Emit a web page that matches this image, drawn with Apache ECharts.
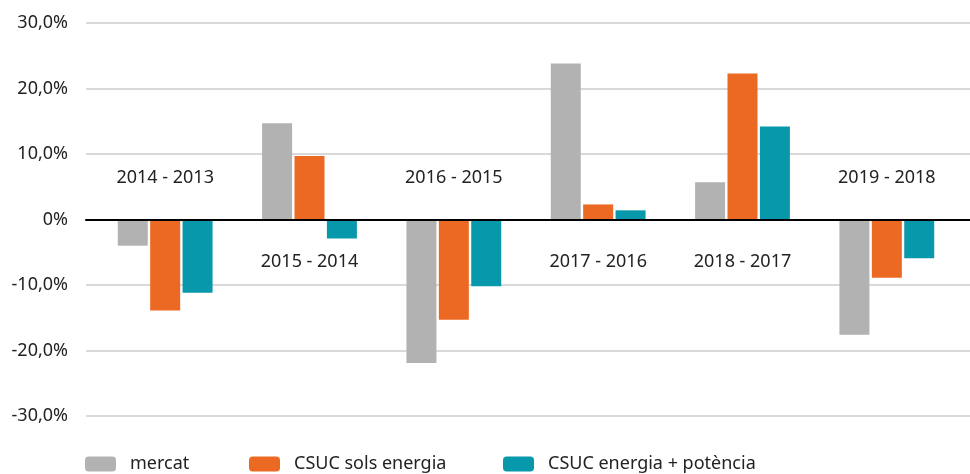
<!DOCTYPE html>
<html>
<head>
<meta charset="utf-8">
<script src="https://cdn.jsdelivr.net/npm/echarts@6/dist/echarts.min.js"></script>
<style>
    html, body { margin: 0; padding: 0; background: #fff; }
    #chart { width: 970px; height: 474px; }
</style>
</head>
<body>
<div id="chart"></div>
<script>
'use strict';
var categories = ['2014 - 2013', '2015 - 2014', '2016 - 2015', '2017 - 2016', '2018 - 2017', '2019 - 2018'];
var mercat = [-4.0, 14.7, -21.9, 23.8, 5.7, -17.6];
var solsEnergia = [-13.9, 9.7, -15.3, 2.3, 22.3, -8.9];
var energiaPotencia = [-11.2, -2.9, -10.2, 1.4, 14.2, -5.9];
var seriesNames = ['mercat', 'CSUC sols energia', 'CSUC energia + potència'];
var colors = ['#b2b2b2', '#ec6923', '#0898ab'];

var font = '"Noto Sans", "Open Sans", sans-serif';
var textColor = '#222';

function pctLabel(v) {
    if (v === 0) {
        return '0%';
    }
    return v.toFixed(1).replace('.', ',') + '%';
}

var chart = echarts.init(document.getElementById('chart'));

function legendFor(name, left) {
    return {
        data: [name],
        left: left,
        top: 452,
        padding: 0,
        itemWidth: 31,
        itemHeight: 15,
        selectedMode: false,
        textStyle: {
            fontFamily: font,
            fontSize: 18,
            color: textColor,
            lineHeight: 20,
            padding: [4, 0, 0, 9]
        }
    };
}

var option = {
    animation: false,
    textStyle: {fontFamily: font},
    legend: [
        legendFor(seriesNames[0], 85),
        legendFor(seriesNames[1], 249),
        legendFor(seriesNames[2], 503)
    ],
    grid: [
        // wide grid: gridlines, y labels and the zero line
        {left: 86, right: 0, top: 23, bottom: 58},
        // narrow grid: bars and category labels
        {left: 93, right: 11, top: 23, bottom: 58}
    ],
    xAxis: [
        {
            type: 'value',
            gridIndex: 0,
            min: 0,
            max: 1,
            z: 5,
            axisLine: {show: true, onZero: true, lineStyle: {color: '#000', width: 2}},
            axisTick: {show: false},
            axisLabel: {show: false},
            splitLine: {show: false}
        },
        {
            // sits at the grid bottom; labels are lifted up to the zero line area
            type: 'category',
            gridIndex: 1,
            data: categories,
            axisLine: {show: false, onZero: false},
            axisTick: {show: false},
            axisLabel: {
                interval: 0,
                margin: -248,
                formatter: function (value, index) {
                    // label sits on the opposite side of the first bar
                    return mercat[index] < 0 ? '{up|' + value + '}' : '{down|' + value + '}';
                },
                rich: {
                    up: {fontFamily: font, fontSize: 18, color: textColor, lineHeight: 20},
                    down: {fontFamily: font, fontSize: 18, color: textColor, lineHeight: 187}
                }
            }
        }
    ],
    yAxis: [
        {
            type: 'value',
            gridIndex: 0,
            min: -30,
            max: 30,
            interval: 10,
            axisLine: {show: false},
            axisTick: {show: false},
            axisLabel: {
                margin: 18,
                fontFamily: font,
                fontSize: 18,
                color: textColor,
                formatter: pctLabel
            },
            splitLine: {lineStyle: {color: '#d9d9d9', width: 2}}
        },
        {
            type: 'value',
            gridIndex: 1,
            min: -30,
            max: 30,
            interval: 10,
            axisLine: {show: false},
            axisTick: {show: false},
            axisLabel: {show: false},
            splitLine: {show: false}
        }
    ],
    series: [
        {name: seriesNames[0], type: 'bar', xAxisIndex: 1, yAxisIndex: 1, barWidth: 30, barGap: '8%',
            itemStyle: {color: colors[0]}, data: mercat},
        {name: seriesNames[1], type: 'bar', xAxisIndex: 1, yAxisIndex: 1, barWidth: 30, barGap: '8%',
            itemStyle: {color: colors[1]}, data: solsEnergia},
        {name: seriesNames[2], type: 'bar', xAxisIndex: 1, yAxisIndex: 1, barWidth: 30, barGap: '8%',
            itemStyle: {color: colors[2]}, data: energiaPotencia}
    ]
};

chart.setOption(option);
</script>
</body>
</html>
